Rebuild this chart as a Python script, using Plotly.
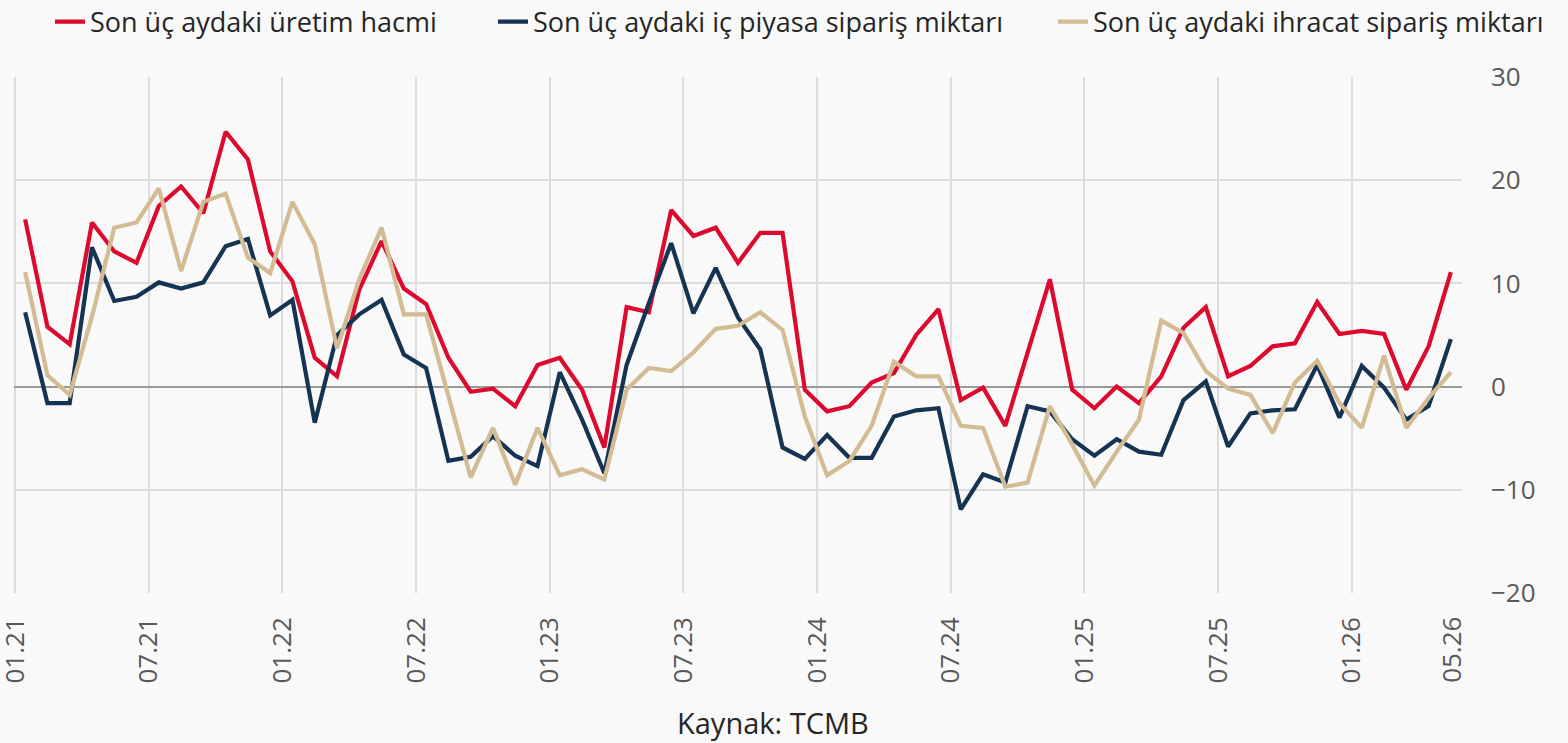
import plotly.graph_objects as go

# Monthly labels 01.21 ... 05.26
months = [f"{m:02d}.{y:02d}" for y in range(21, 27) for m in range(1, 13)][:65]

uretim = [16.2, 5.8, 4.1, 15.9, 13.1, 12.0, 17.5, 19.4, 16.8, 24.7, 22.0, 13.1, 10.2,
          2.8, 1.0, 9.4, 14.1, 9.5, 8.0, 2.8, -0.5, -0.2, -1.9, 2.1, 2.8, -0.3, -5.9,
          7.7, 7.2, 17.1, 14.6, 15.4, 12.0, 14.9, 14.9, -0.3, -2.4, -1.9, 0.4, 1.3,
          5.0, 7.5, -1.3, -0.1, -3.8, 3.4, 10.4, -0.3, -2.1, 0.0, -1.6, 1.0, 5.7,
          7.7, 1.0, 2.0, 3.9, 4.2, 8.2, 5.1, 5.4, 5.1, -0.3, 3.9, 11.1]

ic_piyasa = [7.2, -1.6, -1.6, 13.5, 8.3, 8.7, 10.1, 9.5, 10.1, 13.6, 14.3, 6.9, 8.4,
             -3.5, 5.0, 7.0, 8.4, 3.1, 1.8, -7.2, -6.8, -4.8, -6.7, -7.7, 1.4, -3.2,
             -8.4, 2.1, 8.1, 13.9, 7.1, 11.5, 6.7, 3.6, -5.9, -7.0, -4.7, -6.9, -6.9,
             -2.9, -2.3, -2.1, -11.9, -8.5, -9.3, -1.9, -2.4, -5.1, -6.7, -5.1, -6.3,
             -6.6, -1.3, 0.5, -5.8, -2.6, -2.3, -2.2, 2.1, -3.0, 2.0, -0.1, -3.2,
             -1.9, 4.6]

ihracat = [11.1, 1.1, -0.8, 6.8, 15.4, 15.9, 19.2, 11.2, 17.9, 18.7, 12.5, 11.0, 17.9,
           13.8, 3.7, 10.4, 15.4, 7.0, 7.0, -1.0, -8.8, -4.0, -9.5, -4.0, -8.6, -8.0,
           -9.0, -0.3, 1.8, 1.5, 3.3, 5.6, 5.9, 7.2, 5.5, -2.9, -8.6, -7.2, -3.8,
           2.4, 1.0, 1.0, -3.8, -4.0, -9.7, -9.3, -1.9, -5.6, -9.6, -6.3, -3.2, 6.4,
           5.2, 1.5, -0.2, -0.8, -4.5, 0.4, 2.5, -1.6, -4.0, 3.0, -4.0, -1.1, 1.4]

series_names = ["Son üç aydaki üretim hacmi",
                "Son üç aydaki iç piyasa sipariş miktarı",
                "Son üç aydaki ihracat sipariş miktarı"]
colors = ["#DC0A2F", "#153352", "#D3BB93"]

x = list(range(len(months)))
# label/grid positions every 6 months (category boundaries)
grid_idx = list(range(0, 61, 6))
grid_pos = [i - 0.45 for i in grid_idx]

BG = "#F9F9F9"
LEG_FONT = "Open Sans, sans-serif"
TICK_FONT = "Open Sans, sans-serif"

fig = go.Figure()
data = [uretim, ic_piyasa, ihracat]
legends = ["legend", "legend2", "legend3"]
for name, vals, col, lg in zip(series_names, data, colors, legends):
    fig.add_trace(go.Scatter(x=x, y=vals, mode="lines", name=name,
                             line=dict(color=col, width=4.2), legend=lg,
                             showlegend=True))

leg_common = dict(orientation="h", xref="container", yref="container",
                  xanchor="left", yanchor="middle", y=1 - 22 / 743,
                  bgcolor="rgba(0,0,0,0)", borderwidth=0,
                  font=dict(family=LEG_FONT, size=27, color="#262626"),
                  itemwidth=30)

fig.update_layout(
    width=1568, height=743,
    paper_bgcolor=BG, plot_bgcolor=BG,
    margin=dict(l=14, r=106, t=77, b=150, autoexpand=False),
    legend=dict(x=50 / 1568, **leg_common),
    legend2=dict(x=493 / 1568, **leg_common),
    legend3=dict(x=1053 / 1568, **leg_common),
    xaxis=dict(range=[-0.5, 64.5], tickmode="array", tickvals=grid_pos,
               ticktext=[months[i] for i in grid_idx], tickangle=-90,
               showgrid=True, gridcolor="#DCDCDC", gridwidth=1.5,
               zeroline=False, showline=False, ticks="", automargin=False,
               ticklabeloverflow="allow",
               tickfont=dict(family=TICK_FONT, size=26, color="#595959"),
               ticklabelstandoff=18),
    yaxis=dict(range=[-20, 30], side="right", tickmode="array",
               tickvals=[-20, -10, 0, 10, 20, 30],
               showgrid=True, gridcolor="#DCDCDC", gridwidth=1.5,
               zeroline=True, zerolinecolor="#9A9A9A", zerolinewidth=2,
               showline=False, ticks="", automargin=False,
               tickfont=dict(family=TICK_FONT, size=26, color="#595959"),
               ticklabelstandoff=28),
    annotations=[
        dict(x=64, xref="x", y=-22 / 516, yref="paper", text=months[64],
             textangle=-90, showarrow=False, yanchor="top", xanchor="center",
             font=dict(family=TICK_FONT, size=26, color="#595959")),
        dict(x=(773 - 14) / 1448, xref="paper", y=(593 - 722) / 516, yref="paper",
             text="Kaynak: TCMB", showarrow=False, xanchor="center", yanchor="middle",
             font=dict(family=LEG_FONT, size=29, color="#262626")),
    ],
)

fig.write_html("out.html",
               config={"displayModeBar": False},
               post_script="document.body.style.margin='0';"
                           "document.body.style.background='#F9F9F9';")
